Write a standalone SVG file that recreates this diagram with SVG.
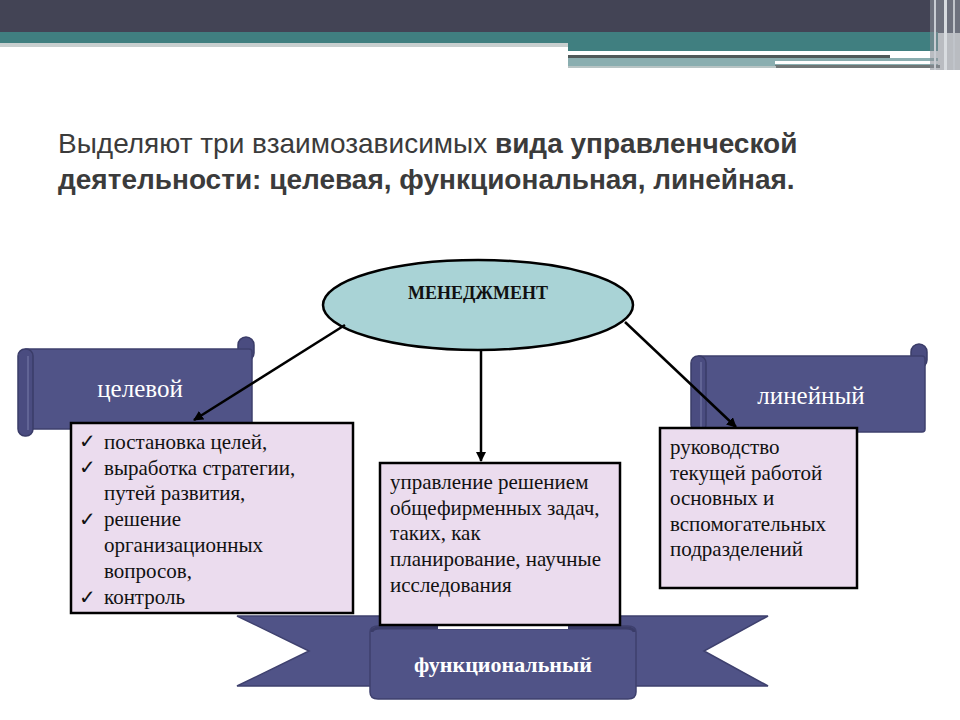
<svg xmlns="http://www.w3.org/2000/svg" width="960" height="720" viewBox="0 0 960 720">
<defs>
<style>
.ttl{font-family:"Liberation Sans","DejaVu Sans",sans-serif;font-size:28px;fill:#3b3b3b}
.b{font-weight:bold}
.body{font-family:"Liberation Serif","DejaVu Serif",serif;font-size:21px;fill:#111}
.chk{font-family:"DejaVu Sans",sans-serif;font-size:20px;fill:#111}
.lbl{font-family:"Liberation Serif","DejaVu Serif",serif;font-size:25px;fill:#fff;text-anchor:middle}
.box{fill:#ebdcee;stroke:#000;stroke-width:2.5}
.ban{fill:#505387;stroke:#3e406e;stroke-width:1.5}
.roll{fill:#4a4c80;stroke:#3a3c68;stroke-width:1.5}
.con{stroke:#000;stroke-width:2.5;fill:none}
</style>
<marker id="ah" viewBox="0 0 10 10" refX="9" refY="5" markerWidth="4" markerHeight="4" orient="auto" markerUnits="strokeWidth">
<path d="M0,0 L10,5 L0,10 z" fill="#000"/>
</marker>
</defs>
<rect width="960" height="720" fill="#fff"/>
<g id="header">
<rect x="0" y="0" width="960" height="33" fill="#434455"/>
<rect x="0" y="32" width="568" height="11" fill="#407f80"/>
<rect x="0" y="43" width="568" height="4" fill="#c8cfcf"/>
<rect x="568" y="32" width="370" height="19" fill="#407f80"/>
<rect x="568" y="51" width="322" height="4" fill="#ffffff"/>
<rect x="568" y="55" width="322" height="3" fill="#505a5a"/>
<rect x="568" y="58" width="370" height="10" fill="#8aaeb0"/>
<rect x="775" y="61" width="165" height="3" fill="#ffffff"/>
<rect x="775" y="65" width="165" height="3" fill="#707676"/>
<rect x="568" y="66" width="208" height="2" fill="#b8c4c4"/>
<rect x="930" y="0" width="30" height="70" fill="#8a8f98" opacity="0.6"/>
<rect x="934" y="0" width="2" height="70" fill="#c8ccd2"/>
<rect x="944" y="0" width="3" height="70" fill="#d8dce0"/>
<rect x="953" y="0" width="2" height="70" fill="#c0c4ca"/>
</g>
<g id="title">
<text class="ttl" x="58" y="153">Выделяют три взаимозависимых <tspan class="b">вида управленческой</tspan></text>
<text class="ttl b" x="58" y="189">деятельности: целевая, функциональная, линейная.</text>
</g>
<g id="n-menedzhment">
<ellipse cx="478" cy="305" rx="155" ry="45" fill="#a9d3d6" stroke="#000" stroke-width="2.5"/>
<text x="478" y="299" text-anchor="middle" font-family="Liberation Serif,serif" font-weight="bold" font-size="18" fill="#111">МЕНЕДЖМЕНТ</text>
</g>
<g id="n-celevoy">
<rect class="roll" x="238" y="337" width="16" height="24" rx="8"/>
<rect class="ban" x="24" y="349" width="228" height="80" rx="3"/>
<rect class="roll" x="18" y="349" width="15" height="87" rx="7"/>
<line x1="28" y1="356" x2="28" y2="430" stroke="#6a6c9c" stroke-width="1.5"/>
<text class="lbl" x="140" y="397">целевой</text>
</g>
<g id="n-lineyny">
<rect class="roll" x="911" y="344" width="16" height="24" rx="8"/>
<rect class="ban" x="697" y="356" width="228" height="76" rx="3"/>
<rect class="roll" x="691" y="356" width="15" height="76" rx="7"/>
<line x1="701" y1="362" x2="701" y2="428" stroke="#6a6c9c" stroke-width="1.5"/>
<text class="lbl" x="811" y="404">линейный</text>
</g>
<g id="n-funkc">
<polygon class="ban" points="237,616 420,616 420,686 237,686 309,651"/>
<polygon class="ban" points="768,616 585,616 585,686 768,686 704,651"/>
<path class="ban" d="M370,632 Q370,626 378,626 L628,626 Q636,626 636,632 L636,692 Q636,699 628,699 L378,699 Q370,699 370,692 Z"/>
<path d="M372,632 Q372,628 380,628 L626,628 Q634,628 634,632" fill="none" stroke="#3a3c68" stroke-width="3"/>
<rect x="438" y="626" width="130" height="3" fill="#fff"/>
<text x="503" y="672" text-anchor="middle" font-family="Liberation Serif,serif" font-weight="bold" font-size="22" fill="#fff">функциональный</text>
</g>
<g id="n-celevoy-box">
<rect class="box" x="71" y="423" width="282" height="190"/>
<text class="chk" x="79" y="448">✓</text>
<text class="chk" x="79" y="474">✓</text>
<text class="chk" x="79" y="526">✓</text>
<text class="chk" x="79" y="604">✓</text>
<text class="body" x="104" y="449">постановка целей,</text>
<text class="body" x="104" y="475"> выработка стратегии,</text>
<text class="body" x="104" y="500">путей развития,</text>
<text class="body" x="104" y="526">решение</text>
<text class="body" x="104" y="552">организационных</text>
<text class="body" x="104" y="578">вопросов,</text>
<text class="body" x="104" y="604">контроль</text>
</g>
<g id="n-funkc-box">
<rect class="box" x="380" y="463" width="240" height="162"/>
<text class="body" x="390" y="489">управление решением</text>
<text class="body" x="390" y="515">общефирменных задач,</text>
<text class="body" x="390" y="540">таких, как</text>
<text class="body" x="390" y="566">планирование, научные</text>
<text class="body" x="390" y="592">исследования</text>
</g>
<g id="n-lineyny-box">
<rect class="box" x="660" y="428" width="197" height="160"/>
<text class="body" x="670" y="454">руководство</text>
<text class="body" x="670" y="480">текущей работой</text>
<text class="body" x="670" y="505">основных и</text>
<text class="body" x="670" y="531">вспомогательных</text>
<text class="body" x="670" y="556">подразделений</text>
</g>
<g id="connectors">
<line class="con" x1="345" y1="325" x2="194" y2="420" marker-end="url(#ah)"/>
<line class="con" x1="481" y1="350" x2="481" y2="461" marker-end="url(#ah)"/>
<line class="con" x1="625" y1="322" x2="736" y2="427" marker-end="url(#ah)"/>
</g>
</svg>
